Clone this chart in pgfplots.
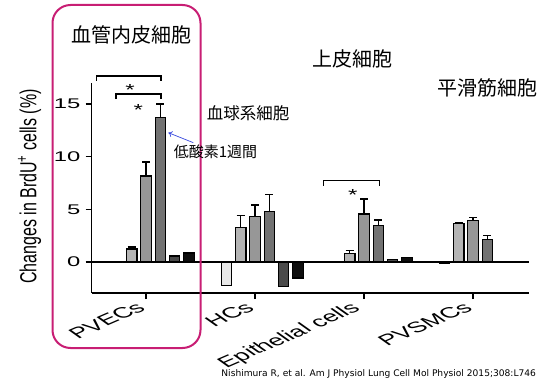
\documentclass[border=0pt]{standalone}
\usepackage{fontspec}
\setmainfont{Liberation Sans}
\newfontfamily\cjk{Noto Sans CJK JP}
\newfontfamily\citefont{DejaVu Sans}
\usepackage{graphicx}
\usepackage{pgfplots}
\pgfplotsset{compat=1.18}
\usetikzlibrary{arrows.meta}
\definecolor{boxmag}{HTML}{C81E74}
\definecolor{cA}{HTML}{E8E8E8}
\definecolor{cB}{HTML}{B4B4B4}
\definecolor{cC}{HTML}{979797}
\definecolor{cD}{HTML}{727272}
\definecolor{cE}{HTML}{4A4A4A}
\definecolor{cF}{HTML}{0E0E0E}
\definecolor{arrblue}{HTML}{3344DD}
\newcommand{\xl}[1]{\scalebox{1.8}[1]{\rotatebox{38}{#1}}}
\begin{document}
\begin{tikzpicture}
\useasboundingbox (0,0) rectangle (548pt,389pt);
\begin{axis}[
  at={(91.7pt,96pt)}, anchor=south west, scale only axis,
  width=437.3pt, height=210pt,
  xmin=91.7, xmax=529, ymin=-2.94, ymax=16.98,
  axis x line*=bottom, axis y line*=left,
  axis line style={line width=1.4pt, black},
  xtick={146,255,364,473},
  xticklabels={\xl{PVECs},\xl{HCs},\xl{Epithelial cells},\xl{PVSMCs}},
  ytick={0,5,10,15},
  tick style={black, line width=1.4pt},
  tick align=outside, major tick length=6pt,
  /pgf/number format/assume math mode=true,
  yticklabel style={font=\fontsize{14}{14}\selectfont, inner sep=0pt, anchor=east, xshift=-5pt, xscale=1.7},
  xticklabel style={font=\fontsize{15}{15}\selectfont, inner sep=0pt, yshift=-2pt, xshift=1pt, anchor=north east},
  ylabel={Changes in BrdU\textsuperscript{+} cells (\%)},
  every axis y label/.style={at={(axis description cs:-0.1422,0.507)}, rotate=90, yscale=1.45, anchor=center, inner sep=0pt, font=\fontsize{16}{16}\selectfont},
  clip=false,
  ybar, bar width=10.5pt, bar shift=0pt,
  every axis plot/.append style={draw=black, line width=1.1pt},
  error bars/error mark=|,
  error bars/error bar style={line width=1.5pt, black, solid},
  error bars/error mark options={line width=1.6pt, draw=black, solid, mark size=4pt},
]
\draw[black, line width=1.4pt] (axis cs:91.7,0) -- (axis cs:529,0);
% series 1 (lightest)
\addplot[fill=cA] coordinates {(117.4,0) (226.4,-2.2) (335.4,0.08) (444.4,-0.1)};
% series 2
\addplot[fill=cB, error bars/.cd, y dir=plus, y explicit] coordinates {
  (131.7,1.23) +- (0,0.22)
  (240.7,3.24) +- (0,1.19)
  (349.7,0.80) +- (0,0.30)
  (458.7,3.64) +- (0,0.06)};
% series 3
\addplot[fill=cC, error bars/.cd, y dir=plus, y explicit] coordinates {
  (146,8.16) +- (0,1.30)
  (255,4.31) +- (0,1.07)
  (364,4.55) +- (0,1.40)
  (473,3.95) +- (0,0.27)};
% series 4
\addplot[fill=cD, error bars/.cd, y dir=plus, y explicit] coordinates {
  (160.3,13.73) +- (0,1.25)
  (269.3,4.81) +- (0,1.58)
  (378.3,3.50) +- (0,0.47)
  (487.3,2.13) +- (0,0.38)};
% series 5
\addplot[fill=cE] coordinates {(174.6,0.57) (283.6,-2.3) (392.6,0.28)};
% series 6
\addplot[fill=cF] coordinates {(188.9,0.85) (297.9,-1.52) (406.9,0.47)};
% significance brackets
\draw[line width=1.2pt] (axis cs:96.7,17.17) -- (axis cs:96.7,17.65) -- (axis cs:161,17.65) -- (axis cs:161,17.17);
\draw[line width=1.2pt] (axis cs:116,15.46) -- (axis cs:116,15.94) -- (axis cs:161,15.94) -- (axis cs:161,15.46);
\draw[line width=1.2pt] (axis cs:323.3,7.21) -- (axis cs:323.3,7.71) -- (axis cs:379.3,7.71) -- (axis cs:379.3,7.21);
\node[anchor=base, inner sep=0pt, font=\fontsize{16}{16}\selectfont, xscale=1.5] at (axis cs:130,15.8) {*};
\node[anchor=base, inner sep=0pt, font=\fontsize{16}{16}\selectfont, xscale=1.5] at (axis cs:138.3,13.92) {*};
\node[anchor=base, inner sep=0pt, font=\fontsize{16}{16}\selectfont, xscale=1.5] at (axis cs:352.7,5.88) {*};
\draw[arrblue, line width=0.7pt, -{To[length=4pt,width=6pt]}] (axis cs:193.3,11.32) -- (axis cs:168.3,12.27);
\end{axis}
\draw[boxmag, line width=2pt, rounded corners=18pt] (52.5pt,41pt) rectangle (200.5pt,384pt);
\node[font=\cjk\fontsize{20}{20}\selectfont, inner sep=0pt] at (131pt,354pt) {血管内皮細胞};
\node[font=\cjk\fontsize{20}{20}\selectfont, inner sep=0pt] at (352pt,330pt) {上皮細胞};
\node[font=\cjk\fontsize{20}{20}\selectfont, inner sep=0pt] at (487pt,300.7pt) {平滑筋細胞};
\node[font=\cjk\fontsize{16.5}{16.5}\selectfont, inner sep=0pt] at (248pt,276pt) {血球系細胞};
\node[font=\cjk\fontsize{15}{15}\selectfont, inner sep=0pt] at (215.5pt,237.5pt) {低酸素1週間};
\node[font=\citefont\fontsize{9.1}{9.1}\selectfont, inner sep=0pt] at (378.7pt,15pt) {Nishimura R, et al. Am J Physiol Lung Cell Mol Physiol 2015;308:L746};
\end{tikzpicture}
\end{document}
